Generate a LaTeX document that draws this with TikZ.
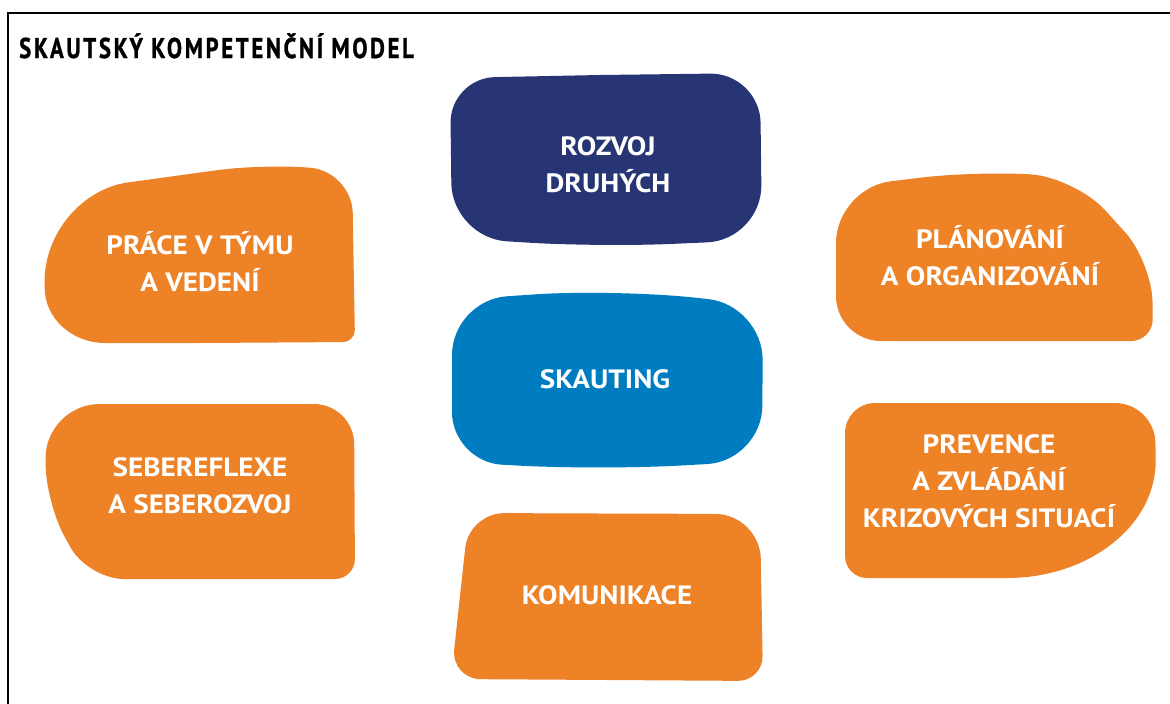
\documentclass[tikz,border=0pt]{standalone}
\usepackage{fontspec}
\usepackage{graphicx}
\usetikzlibrary{calc}
\setmainfont{PT Sans}
\newfontfamily\titlefont[LetterSpace=12,FakeBold=1.2]{PT Sans}
\newfontfamily\lblfont[FakeStretch=1.1]{PT Sans}
\definecolor{orng}{RGB}{238,130,39}
\definecolor{navy}{RGB}{40,53,117}
\definecolor{skblue}{RGB}{0,125,193}
% rounded corner: previous point, vertex, next point, radius
\newcommand\crn[4]{-- ($(#2)!#4pt!(#1)$) .. controls ($(#2)!0.45*#4pt!(#1)$) and ($(#2)!0.45*#4pt!(#3)$) .. ($(#2)!#4pt!(#3)$) }
% asymmetric corner: previous point, vertex, next point, radius towards previous, radius towards next
\newcommand\crnx[5]{-- ($(#2)!#4pt!(#1)$) .. controls ($(#2)!0.45*#4pt!(#1)$) and ($(#2)!0.45*#5pt!(#3)$) .. ($(#2)!#5pt!(#3)$) }
\tikzset{
  blob/.style={fill=#1, draw=none},
  lbl/.style={text=white, font=\lblfont\fontsize{26.5}{37}\selectfont\bfseries, align=center, anchor=base, inner sep=0pt},
}
\begin{document}
\begin{tikzpicture}[x=1pt,y=-1pt]
\useasboundingbox (0,0) rectangle (1170,704);
\fill[white] (0,0) rectangle (1170,704);
\draw[line width=2pt] (8,704) -- (8,13) -- (1170,13);
\node[anchor=base west, inner sep=0pt, font=\titlefont\fontsize{28.5}{30}\selectfont\bfseries] (title) at (19,58) {\scalebox{0.795}[1]{SKAUTSKÝ KOMPETENČNÍ MODEL}};
% PRACE
\fill[blob=orng] (200,343)
  \crnx{200,343}{45,343}{44,194}{60}{55}
  \crnx{45,343}{44,194}{262,164}{88}{85}
  \crn{44,194}{262,164}{352,171}{45}
  \crn{262,164}{352,171}{355,342}{42}
  \crn{352,171}{355,342}{200,343}{12} -- cycle;
% SEBEREFLEXE
\fill[blob=orng] (200,404)
  \crn{200,404}{354,404}{355,579}{40}
  \crn{354,404}{355,579}{88,579}{20}
  \crn{355,579}{88,579}{46,503}{36}
  \crn{88,579}{46,503}{45,404}{38}
  \crn{46,503}{45,404}{200,404}{55} -- cycle;
% ROZVOJ
\fill[blob=navy] (600,75)
  \crn{600,75}{760,73}{762,240}{50}
  \crn{760,73}{762,240}{600,247}{55}
  \crn{762,240}{600,247}{452,238}{70}
  \crn{600,247}{452,238}{450,78}{55}
  \crn{452,238}{450,78}{600,75}{45} -- cycle;
% SKAUTING
\fill[blob=skblue] (533,294.5)
  \crn{533,294.5}{615,289}{763,305}{80}
  \crn{615,289}{763,305}{762,461}{55}
  \crn{763,305}{762,461}{600,470}{55}
  \crn{762,461}{600,470}{452,462}{80}
  \crn{600,470}{452,462}{452,300}{50}
  \crn{452,462}{452,300}{533,294.5}{55} -- cycle;
% KOMUNIKACE
\fill[blob=orng] (600,513.5)
  \crn{600,513.5}{760,514}{763,681}{45}
  \crn{760,514}{763,681}{451,679}{25}
  \crn{763,681}{451,679}{469,513}{30}
  \crn{451,679}{469,513}{600,513.5}{35} -- cycle;
% PLANOVANI
\fill[blob=orng] (905.5,179.5)
  \crn{905.5,179.5}{975,171}{1075,177}{55}
  \crn{975,171}{1075,177}{1152,262}{45}
  \crn{1075,177}{1152,262}{1153,341}{40}
  \crn{1152,262}{1153,341}{836,341}{22}
  \crn{1153,341}{836,341}{836,188}{45}
  \crn{836,341}{836,188}{905.5,179.5}{55} -- cycle;
% PREVENCE
\fill[blob=orng] (1000,403)
  \crn{1000,403}{1155,403}{1157,578}{40}
  \crnx{1155,403}{1157,578}{845,578}{118}{150}
  \crn{1157,578}{845,578}{845,403}{22}
  \crn{845,578}{845,403}{1000,403}{30} -- cycle;
% labels
\node[lbl] (prace) at (200,291) {PRÁCE V TÝMU\\A VEDENÍ};
\node[lbl] (sebe) at (200,513) {SEBEREFLEXE\\A SEBEROZVOJ};
\node[lbl] (rozvoj) at (608,192) {ROZVOJ\\DRUHÝCH};
\node[lbl] (skauting) at (605,388) {SKAUTING};
\node[lbl] (komunikace) at (607,604) {KOMUNIKACE};
\node[lbl] (planovani) at (990,285) {PLÁNOVÁNÍ\\A ORGANIZOVÁNÍ};
\node[lbl] (prevence) at (989,527) {PREVENCE\\A ZVLÁDÁNÍ\\KRIZOVÝCH SITUACÍ};
\end{tikzpicture}
\end{document}
